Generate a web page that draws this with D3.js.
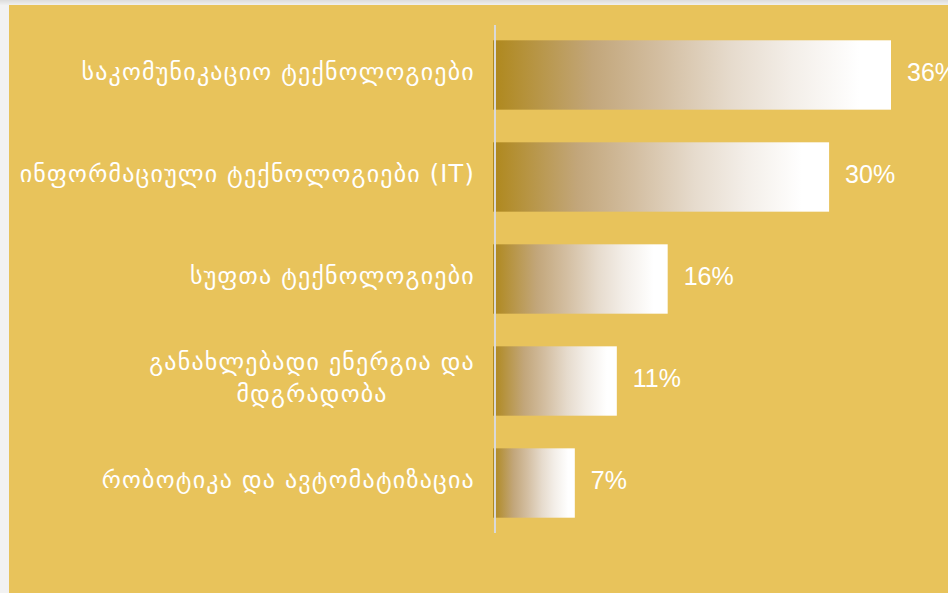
<!DOCTYPE html>
<html><head><meta charset="utf-8">
<script src="https://cdn.jsdelivr.net/npm/d3@7/dist/d3.min.js"></script>
<style>
html,body{margin:0;padding:0;background:#f2f2f2;}
svg{display:block;}
</style></head>
<body>
<svg id="chart" width="948" height="593"></svg>
<script>
const categories = [
  ["საკომუნიკაციო ტექნოლოგიები"],
  ["ინფორმაციული ტექნოლოგიები (IT)"],
  ["სუფთა ტექნოლოგიები"],
  ["განახლებადი ენერგია და", "მდგრადობა"],
  ["რობოტიკა და ავტომატიზაცია"]
];
const values = [36, 30.4, 15.8, 11.2, 7.4];
const valueLabels = ["36%", "30%", "16%", "11%", "7%"];

const svg = d3.select("#chart");
const W = 948, H = 593;

const defs = svg.append("defs");
const sh = defs.append("linearGradient").attr("id","shadow").attr("x1",0).attr("y1",0).attr("x2",0).attr("y2",1);
sh.append("stop").attr("offset","0%").attr("stop-color","#dcdcdc");
sh.append("stop").attr("offset","100%").attr("stop-color","#f0f0f0");
svg.append("rect").attr("x",0).attr("y",0).attr("width",W).attr("height",5).attr("fill","url(#shadow)");
svg.append("rect").attr("x",9).attr("y",5).attr("width",W-9).attr("height",H-5).attr("fill","#E8C35B");

const g = defs.append("linearGradient").attr("id","barGrad").attr("x1",0).attr("y1",0).attr("x2",1).attr("y2",0);
[["0%","#AF881C"],["25%","#C2A67A"],["42%","#D3BEA1"],["60%","#E6DBCD"],["75%","#F3EEE8"],["92%","#FFFFFF"],["100%","#FFFFFF"]]
  .forEach(([o,c]) => g.append("stop").attr("offset",o).attr("stop-color",c));

const x = d3.scaleLinear().domain([0, 36]).range([493, 891]);
const y = d3.scaleBand().domain(d3.range(categories.length)).range([25, 533]).paddingInner(0.32).paddingOuter(0.15);

svg.append("g").selectAll("rect").data(values).join("rect")
  .attr("x", x(0))
  .attr("y", (d,i) => y(i))
  .attr("width", d => x(d) - x(0))
  .attr("height", y.bandwidth())
  .attr("fill", "url(#barGrad)");

svg.append("line").attr("x1",495).attr("x2",495).attr("y1",25).attr("y2",533)
  .attr("stroke","#d9d9d9").attr("stroke-width",2);

const lab = svg.append("g").selectAll("g").data(categories).join("g");
lab.each(function(lines, i){
  const grp = d3.select(this);
  const cy = y(i) + y.bandwidth()/2;
  const lh = 32;
  const t = grp.append("text")
    .attr("fill","#fff")
    .attr("font-family","DejaVu Sans")
    .attr("font-size",24)
    .attr("letter-spacing",1.2)
    .attr("text-anchor","middle")
    .attr("dominant-baseline","central");
  lines.forEach((ln, k) => {
    t.append("tspan").attr("x",0).attr("y", cy + (k - (lines.length-1)/2)*lh - 3).text(ln);
  });
  const bb = t.node().getBBox();
  t.attr("transform", `translate(${475 - bb.width/2},0)`);
});

svg.append("g").selectAll("text").data(values).join("text")
  .attr("x", d => x(d) + 16)
  .attr("y", (d,i) => y(i) + y.bandwidth()/2 - 3)
  .attr("dy","0.35em")
  .attr("fill","#fff")
  .attr("font-family","Liberation Sans, Arial, sans-serif")
  .attr("font-size",25)
  .text((d,i) => valueLabels[i]);
</script>
</body></html>
